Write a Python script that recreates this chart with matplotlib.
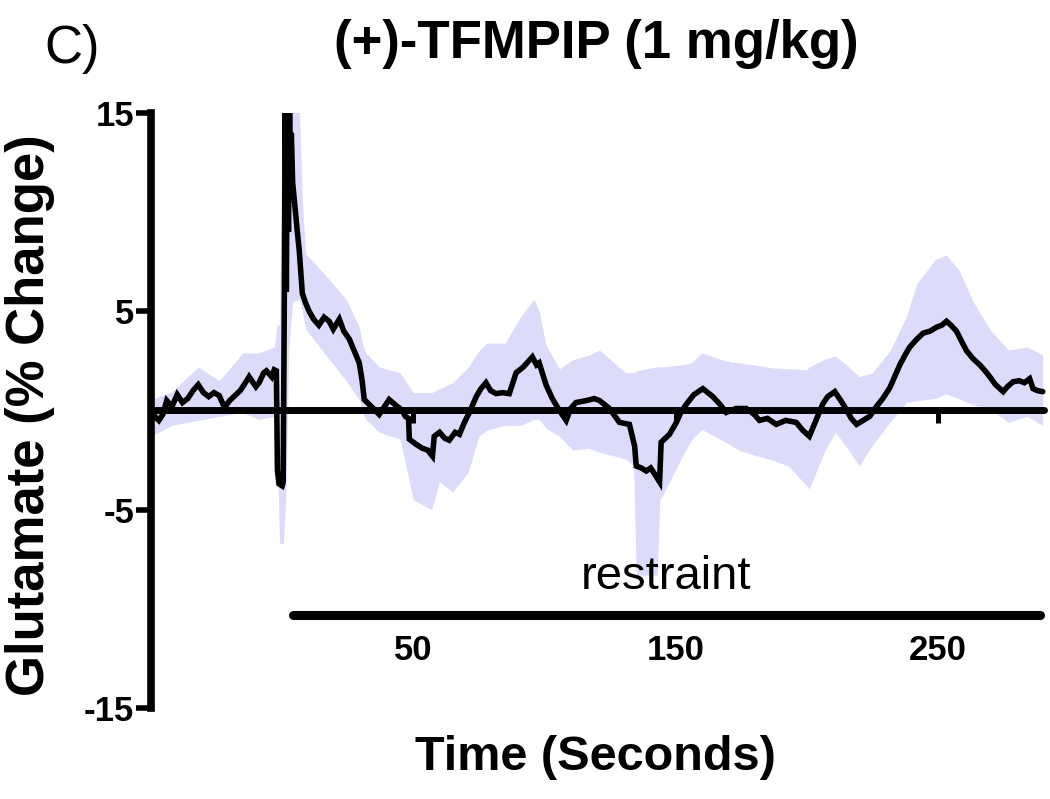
import numpy as np
import matplotlib
matplotlib.use("Agg")
import matplotlib.pyplot as plt

plt.rcParams['font.family'] = ['Liberation Sans', 'DejaVu Sans']

# mean glutamate trace (% change)
time = [-50, -48.5, -47, -45.5, -44, -42, -40, -38, -36, -34, -32, -30, -28, -26, -24, -22, -20, -18, -16, -14,
        -12.6, -10, -8.8, -7, -6, -4, -3, -2.2, -1.8, -1.2, 0, 0.4, 0.8, 1.2, 1.6, 2.0, 2.4, 2.8, 3.2, 3.5,
        4.0, 5.2, 5.8, 6.5, 7.7, 9.0, 10.3, 12, 14, 16, 17.9, 19.5, 21.8, 23.5, 25.6, 27.5, 29.4, 30.5, 31.3, 34,
        37, 39, 40.8, 43, 45.8, 47, 48.2, 48.5, 51, 53.4, 55.5, 57.3, 58, 60, 62, 63.7, 66, 67.6, 69.5, 71.4,
        74, 75.8, 77.7, 79.5, 81.6, 84, 86.6, 89.2, 92, 95.4, 97, 98, 100.6, 103, 105.7, 108.3, 110, 112, 116, 119,
        121, 124.8, 128.6, 132.4, 134.4, 135, 137, 138.8, 140.5, 142, 143.9, 144.5, 147.7, 150.3, 152, 154, 157, 160.4, 164.2, 167,
        169.3, 173, 177, 180, 182, 185, 188.4, 192, 196, 198.5, 201, 203.5, 206.2, 208, 210.7, 213, 215.1, 217, 219, 221.5,
        224, 226.6, 229, 231.7, 233.5, 235.5, 237.5, 239.3, 242, 244.4, 247, 249.5, 251.5, 253.3, 255, 257.1, 259, 261, 263.5, 266,
        268, 269.8, 272, 274.9, 276.5, 278.7, 281, 283, 285, 286.3, 288, 290]
mean = [0.3, -0.3, -0.5, -0.2, 0.5, 0.2, 0.8, 0.4, 0.6, 1.0, 1.3, 0.9, 0.7, 0.9, 0.75, 0.15, 0.5, 0.75, 1.0, 1.4,
        1.7, 1.2, 1.4, 1.9, 2.0, 1.7, 2.05, 2.0, -3.0, -3.7, -3.8, -3.6, 5, 16, 6, 16, 9, 16, 12, 14,
        11.5, 9.8, 9.0, 8.1, 5.9, 5.4, 5.0, 4.6, 4.3, 4.7, 4.5, 4.1, 4.6, 4.0, 3.6, 3.0, 2.4, 1.5, 0.55, 0.2,
        -0.2, 0.2, 0.55, 0.3, 0.0, -0.3, -0.4, -1.45, -1.7, -1.9, -2.0, -2.3, -1.3, -1.1, -1.4, -1.5, -1.1, -1.2, -0.6, -0.1,
        0.7, 1.1, 1.4, 1.0, 0.85, 0.9, 0.85, 1.9, 2.2, 2.7, 2.3, 2.4, 1.3, 0.6, 0.0, -0.5, 0.1, 0.4, 0.5, 0.6,
        0.5, 0.1, -0.6, -0.7, -1.8, -2.8, -2.9, -3.05, -2.9, -3.2, -3.6, -1.6, -1.2, -0.6, -0.1, 0.3, 0.8, 1.1, 0.7, 0.3,
        -0.1, 0.1, 0.1, -0.2, -0.5, -0.4, -0.7, -0.5, -0.6, -1.0, -1.3, -0.5, 0.35, 0.7, 0.95, 0.5, 0.05, -0.4, -0.7, -0.5,
        -0.3, 0.2, 0.6, 1.15, 1.7, 2.3, 2.8, 3.2, 3.6, 3.9, 4.0, 4.2, 4.3, 4.5, 4.3, 4.0, 3.5, 3.0, 2.6, 2.3,
        2.0, 1.7, 1.3, 0.95, 1.2, 1.45, 1.5, 1.4, 1.6, 1.1, 1.0, 0.95]

# SEM band edges
band_t = [-50, -42, -32, -24, -15, -9, -3, -2, -1, 0, 0.5, 1.5, 2.5, 4, 6.5, 7.7, 9, 16, 24.4, 29.4,
          31, 32, 37, 45, 48.5, 50, 57, 60, 65, 71, 75, 78, 85, 91, 96, 98, 100.6, 105.7, 110.8, 117,
          121, 131, 134, 135, 143, 144, 145, 152, 156, 160, 169, 174, 180, 187, 193, 200, 201, 207, 211, 216,
          220, 225, 232, 238, 242, 249, 253, 258, 263, 270, 277, 284, 290]
band_hi = [0.55, 0.95, 2.2, 1.5, 2.9, 2.9, 3.2, 4.3, 4.3, 15.5, 15.5, 15.5, 15.5, 15.5, 15.5, 10.6, 7.9, 6.9, 5.6, 4.2,
           3.2, 2.9, 2.2, 1.9, 1.2, 0.9, 0.9, 1.1, 1.4, 2.2, 3.0, 3.4, 3.4, 4.75, 5.6, 5.0, 3.3, 2.1, 2.55, 2.8,
           3.05, 1.9, 1.9, 2.0, 2.2, 2.2, 2.2, 2.3, 2.4, 2.9, 2.5, 2.4, 2.3, 2.15, 2.1, 2.05, 2.2, 2.6, 2.75, 2.2,
           1.7, 1.9, 3.05, 4.75, 6.4, 7.6, 7.85, 7.1, 5.6, 4.05, 3.05, 3.2, 2.8]
band_lo = [-1.3, -0.75, -0.5, -0.3, -0.1, -0.45, -0.3, -1.0, -6.7, -6.7, -6.7, -4, 3, 5.5, 5.6, 5.0, 4.1, 2.9, 1.5, 0.55,
           -0.2, -0.45, -1.1, -1.45, -3.6, -4.5, -5.0, -3.6, -4.1, -3.1, -1.3, -1.0, -0.75, -0.75, -0.45, -0.45, -0.9, -1.3, -2.0, -1.9,
           -2.1, -2.45, -2.8, -8.3, -8.3, -4.5, -4.3, -2.45, -1.5, -0.95, -1.6, -2.0, -2.25, -2.5, -2.8, -3.8, -3.95, -2.0, -1.1, -2.0,
           -2.8, -1.75, -0.55, 0.4, 0.5, 0.6, 0.85, 0.6, 0.3, 0.05, -0.6, -0.3, -0.75]

restraint_start = 4
restraint_end = 289
x_ticks = [50, 150, 250]
y_ticks = [-15, -5, 5, 15]

fig = plt.figure(figsize=(10.5, 7.99), dpi=100)
ax = fig.add_axes([151 / 1050, 0.1139, 0.8543, 0.7447])

ax.fill_between(band_t, band_lo, band_hi, color='#dcdcfa', linewidth=0, zorder=1)
ax.plot(time, mean, color='black', lw=4, solid_capstyle='round', solid_joinstyle='miter', zorder=3)

# restraint bar
ax.plot([restraint_start, restraint_end], [-10.3, -10.3], color='black', lw=6.5,
        solid_capstyle='round', clip_on=False)
ax.text(146.5, -8.4, 'restraint', fontsize=34, ha='center', va='center')

ax.set_xlim(-50, 292)
ax.set_ylim(-15, 15)

for s in ['top', 'right']:
    ax.spines[s].set_visible(False)
ax.spines['left'].set_linewidth(5.5)
ax.spines['left'].set_bounds(-15, 15)
ax.spines['left'].set_capstyle('projecting')
ax.spines['bottom'].set_position(('data', 0))
ax.spines['bottom'].set_linewidth(5)
ax.spines['bottom'].set_bounds(-50, 290.5)
ax.spines['bottom'].set_capstyle('round')
ax.spines['bottom'].set_zorder(2.5)

ax.set_xticks(x_ticks)
ax.set_xticklabels([str(v) for v in x_ticks])
ax.set_yticks(y_ticks)
ax.set_yticklabels([str(v) for v in y_ticks])
ax.tick_params(axis='x', direction='out', length=9, width=3.6, pad=152, labelsize=25)
ax.tick_params(axis='y', direction='out', length=11, width=4, pad=1, labelsize=25)
for lab in ax.get_xticklabels() + ax.get_yticklabels():
    lab.set_fontweight('bold')

fig.text(596 / 1050, 1 - 58 / 799, '(+)-TFMPIP (1 mg/kg)', fontsize=38, fontweight='bold',
         ha='center', va='baseline')
fig.text(44 / 1050, 1 - 63 / 799, 'C)', fontsize=38, ha='left', va='baseline')
fig.text(30 / 1050, 1 - 415 / 799, 'Glutamate (% Change)', fontsize=38, fontweight='bold',
         rotation=90, ha='center', va='center')
fig.text(595 / 1050, 1 - 757 / 799, 'Time (Seconds)', fontsize=35, fontweight='bold',
         ha='center', va='center')

fig.savefig('out.png', dpi=100)
